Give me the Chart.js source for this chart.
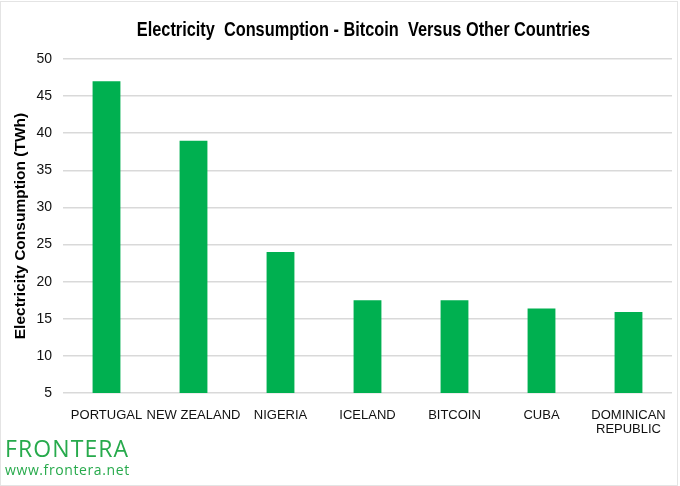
<!DOCTYPE html>
<html>
<head>
<meta charset="utf-8">
<script src="https://cdn.jsdelivr.net/npm/chart.js@4.4.0/dist/chart.umd.min.js"></script>
<style>
body { margin: 0; background: #fff; }
#wrap { position: relative; width: 680px; height: 486px; }
#frame { position: absolute; left: 0; top: 1px; width: 676px; height: 483px; border: 1px solid #e4e4e4; pointer-events: none; }
#logo { position: absolute; left: 5px; top: 435px; color: #27aa4c; font-family: 'Open Sans', 'DejaVu Sans', sans-serif; }
#logo .name { font-size: 23px; letter-spacing: 1.1px; line-height: 27px; }
#logo .site { font-size: 14px; letter-spacing: 0.6px; line-height: 16px; }
</style>
</head>
<body>
<div id="wrap">
<canvas id="consumptionChart" width="680" height="486"></canvas>
<div id="frame"></div>
<div id="logo"><div class="name">FRONTERA</div><div class="site">www.frontera.net</div></div>
</div>
<script>
var countries = ['PORTUGAL', 'NEW ZEALAND', 'NIGERIA', 'ICELAND', 'BITCOIN', 'CUBA', ['DOMINICAN', 'REPUBLIC']];
var consumptionTWh = [47, 39, 24, 17.5, 17.5, 16.4, 15.9];
var yMin = 5;
var yMax = 50;
var yStep = 5;
var chartTitle = 'Electricity  Consumption - Bitcoin  Versus Other Countries';

var myChart;

// condensed title, the narrow font is not installed so it is squeezed by hand
var narrowTitle = {
    id: 'narrowTitle',
    afterDraw: function(chart) {
        var ctx = chart.ctx;
        var area = chart.chartArea;
        ctx.save();
        ctx.translate((area.left + area.right) / 2 - 4, 30);
        ctx.scale(0.777, 1);
        ctx.font = "bold 21px 'Liberation Sans', Arial, sans-serif";
        ctx.fillStyle = '#000';
        ctx.textAlign = 'center';
        ctx.textBaseline = 'middle';
        ctx.fillText(chartTitle, 0, 0);
        ctx.restore();
    }
};

function renderConsumptionChart() {
    var ctx = document.getElementById('consumptionChart').getContext('2d');

    myChart = new Chart(ctx, {
        type: 'bar',
        data: {
            labels: countries,
            datasets: [{
                label: 'Electricity Consumption (TWh)',
                data: consumptionTWh,
                backgroundColor: '#00b050',
                borderWidth: 0,
                barPercentage: 0.32,
                categoryPercentage: 1
            }]
        },
        options: {
            responsive: false,
            animation: false,
            layout: {
                padding: { top: 59, right: 8, bottom: 43, left: 0 }
            },
            plugins: {
                legend: { display: false },
                tooltip: { enabled: false },
                title: { display: false }
            },
            scales: {
                x: {
                    grid: { display: false },
                    border: { display: false },
                    ticks: {
                        color: '#111',
                        font: { family: "'Liberation Sans', Arial, sans-serif", size: 13, lineHeight: 1.1 },
                        padding: 7,
                        maxRotation: 0,
                        autoSkip: false
                    },
                    afterFit: function(scale) { scale.height = 50; }
                },
                y: {
                    min: yMin,
                    max: yMax,
                    grid: { color: '#d9d9d9', lineWidth: 1.5, drawTicks: false },
                    border: { display: false },
                    ticks: {
                        stepSize: yStep,
                        color: '#111',
                        font: { family: "'Liberation Sans', Arial, sans-serif", size: 14 },
                        padding: 11
                    },
                    title: {
                        display: true,
                        text: 'Electricity Consumption (TWh)',
                        color: '#000',
                        font: { family: "'Liberation Sans', Arial, sans-serif", size: 15.5, weight: 'bold' },
                        padding: { top: 11, bottom: 0 }
                    },
                    afterFit: function(scale) { scale.width = 63; }
                }
            }
        },
        plugins: [narrowTitle]
    });
}

renderConsumptionChart();
</script>
</body>
</html>
